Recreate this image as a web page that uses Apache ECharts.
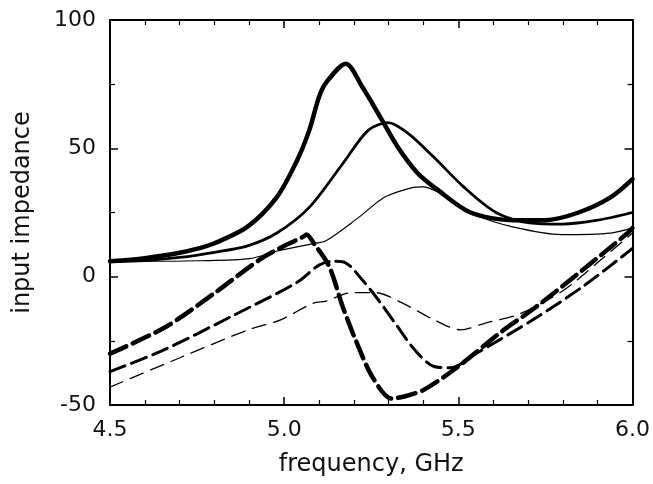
<!DOCTYPE html>
<html><head><meta charset="utf-8">
<script src="https://cdn.jsdelivr.net/npm/echarts@6/dist/echarts.min.js"></script>
<style>html,body{margin:0;padding:0;background:#fff}#c{width:653px;height:484px}</style>
</head><body><div id="c"></div>
<script>
// x tick labels / ranges
var xTicks = [4.5, 5.0, 5.5, 6.0];
var yTicks = [-50, 0, 50, 100];

// Solid curves (thick, medium, thin)
var s1F = [4.5, 4.6, 4.7, 4.754, 4.8, 4.895, 4.979, 5.036, 5.072, 5.100, 5.120, 5.177, 5.224, 5.281, 5.326, 5.382, 5.439, 5.535, 5.656, 5.749, 5.845, 5.938, 6.0];
var s1V = [6, 7.2, 9.3, 11, 13, 19.5, 31, 45, 57, 70, 75.5, 83, 74, 61, 50.5, 40.5, 34, 25, 22, 22, 25, 31, 38];

var s2F = [4.5, 4.6, 4.7, 4.8, 4.895, 4.979, 5.072, 5.168, 5.241, 5.298, 5.354, 5.43, 5.515, 5.608, 5.704, 5.8, 5.9, 6.0];
var s2V = [6, 6.3, 7.5, 9.5, 12, 17, 27, 44, 57, 60, 56, 46.5, 35, 25, 21, 20.5, 22, 25];

var s3F = [4.5, 4.6, 4.75, 4.9, 4.98, 5.08, 5.12, 5.213, 5.289, 5.365, 5.4, 5.467, 5.55, 5.656, 5.797, 5.938, 6.0];
var s3V = [6, 6, 6.2, 7, 10, 12.8, 14, 23, 31, 34.6, 35, 31, 24, 19.4, 16.4, 17, 19];

// Dashed curves (thick, medium, thin)
var d1F = [4.5, 4.661, 4.802, 4.943, 5.055, 5.064, 5.084, 5.129, 5.168, 5.205, 5.253, 5.309, 5.35, 5.402, 5.495, 5.628, 5.721, 5.862, 5.986, 6.0];
var d1V = [-30, -19.5, -6.2, 7.8, 15.6, 16.4, 13.2, 4, -11.7, -24.6, -39, -47.5, -46.5, -44, -35.5, -21, -12, 3.2, 17, 19];

var d2F = [4.5, 4.655, 4.847, 5.036, 5.1, 5.14, 5.175, 5.224, 5.27, 5.318, 5.374, 5.43, 5.478, 5.55, 5.721, 5.862, 6.0];
var d2V = [-37, -28.5, -15.6, -2.3, 4.5, 6, 5.5, -1.2, -9, -18, -28.4, -35, -35.5, -30, -16.2, -3.4, 11];

var d3F = [4.5, 4.706, 4.895, 4.988, 5.084, 5.12, 5.196, 5.261, 5.337, 5.43, 5.506, 5.58, 5.676, 5.8, 5.9, 6.0];
var d3V = [-43, -31.3, -20.8, -16.9, -10.3, -9.5, -6.2, -6.2, -10.1, -16.8, -20.7, -18, -14.5, -5.5, 5.5, 17];

function pairs(f, v) { return f.map(function (x, i) { return [x, v[i]]; }); }

function ser(f, v, w, dash) {
  return {
    type: 'line', data: pairs(f, v), showSymbol: false, smooth: 0.3,
    xAxisIndex: 0, yAxisIndex: 0, animation: false,
    lineStyle: { color: '#000', width: w, type: dash || 'solid', cap: 'round', join: 'round' }
  };
}

var FONT = 'DejaVu Sans';
var axisLine = { show: true, onZero: false, lineStyle: { color: '#000', width: 2 } };

var chart = echarts.init(document.getElementById('c'), null, { renderer: 'canvas' });
chart.setOption({
  backgroundColor: '#fff',
  animation: false,
  grid: { left: 110, right: 11, top: 20, bottom: 79 },
  xAxis: [{
    type: 'value', min: xTicks[0], max: xTicks[xTicks.length - 1], interval: 0.5,
    position: 'bottom',
    name: 'frequency, GHz', nameLocation: 'middle', nameGap: 48,
    nameTextStyle: { fontFamily: FONT, fontSize: 24, color: '#111' },
    axisLine: axisLine,
    axisTick: { show: true, inside: true, length: 8, lineStyle: { color: '#000', width: 1.5 } },
    minorTick: { show: true, splitNumber: 5, length: 5, lineStyle: { color: '#000', width: 1.2 } },
    splitLine: { show: false },
    axisLabel: { margin: 14, fontFamily: FONT, fontSize: 22, color: '#111',
      formatter: function (v) { return v.toFixed(1); } }
  }, {
    type: 'value', min: xTicks[0], max: xTicks[xTicks.length - 1], interval: 0.5,
    position: 'top',
    axisLine: axisLine,
    axisTick: { show: true, inside: true, length: 8, lineStyle: { color: '#000', width: 1.5 } },
    minorTick: { show: true, splitNumber: 5, length: 5, lineStyle: { color: '#000', width: 1.2 } },
    splitLine: { show: false },
    axisLabel: { show: false }
  }],
  yAxis: [{
    type: 'value', min: yTicks[0], max: yTicks[yTicks.length - 1], interval: 50,
    position: 'left',
    name: 'input impedance', nameLocation: 'middle', nameGap: 75, nameRotate: 90,
    nameTextStyle: { fontFamily: FONT, fontSize: 24, color: '#111' },
    axisLine: axisLine,
    axisTick: { show: true, inside: true, length: 8, lineStyle: { color: '#000', width: 1.5 } },
    minorTick: { show: true, splitNumber: 2, length: 5, lineStyle: { color: '#000', width: 1.2 } },
    splitLine: { show: false },
    axisLabel: { margin: 14, fontFamily: FONT, fontSize: 22, color: '#111' }
  }, {
    type: 'value', min: yTicks[0], max: yTicks[yTicks.length - 1], interval: 50,
    position: 'right',
    axisLine: axisLine,
    axisTick: { show: true, inside: true, length: 8, lineStyle: { color: '#000', width: 1.5 } },
    minorTick: { show: true, splitNumber: 2, length: 5, lineStyle: { color: '#000', width: 1.2 } },
    splitLine: { show: false },
    axisLabel: { show: false }
  }],
  series: [
    ser(s1F, s1V, 4.5),
    ser(s2F, s2V, 2.8),
    ser(s3F, s3V, 1.2),
    ser(d1F, d1V, 4.5, [18, 7]),
    ser(d2F, d2V, 3, [16, 7]),
    ser(d3F, d3V, 1.3, [14, 8])
  ]
});
</script>
</body></html>
